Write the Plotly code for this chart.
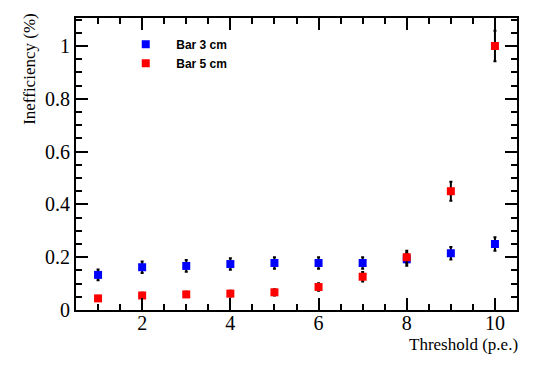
import plotly.graph_objects as go

# Umbral (p.e.)
threshold = [1, 2, 3, 4, 5, 6, 7, 8, 9, 10]

# Bar 3 cm
ineff_3cm = [0.133, 0.162, 0.167, 0.174, 0.178, 0.178, 0.178, 0.192, 0.215, 0.250]
err_3cm = [0.020, 0.022, 0.022, 0.022, 0.022, 0.022, 0.022, 0.024, 0.024, 0.026]

# Bar 5 cm
ineff_5cm = [0.044, 0.055, 0.059, 0.062, 0.067, 0.087, 0.126, 0.200, 0.450, 1.000]
err_5cm = [0.006, 0.010, 0.010, 0.011, 0.012, 0.014, 0.018, 0.024, 0.036, 0.058]

serif = 'Liberation Serif, Times New Roman, serif'

fig = go.Figure()

fig.add_scatter(x=threshold, y=ineff_3cm, mode='markers', name='Bar 3 cm',
                marker=dict(symbol='square', size=8, color='#0000ff'),
                error_y=dict(type='data', array=err_3cm, color='black', thickness=2, width=1.5))

fig.add_scatter(x=threshold, y=ineff_5cm, mode='markers', name='Bar 5 cm',
                marker=dict(symbol='square', size=8, color='#ff0000'),
                error_y=dict(type='data', array=err_5cm, color='black', thickness=2, width=1.5))

axis_common = dict(
    showline=True, linecolor='black', linewidth=2, mirror='ticks',
    ticks='inside', ticklen=12, tickwidth=2, tickcolor='black',
    showgrid=False, zeroline=False, automargin=False,
    tickfont=dict(family=serif, size=20, color='black'),
)

# la pagina tiene 8 px de margen en el body
fig.update_layout(
    width=545, height=369,
    margin=dict(l=68, r=36, t=10, b=67),
    paper_bgcolor='white', plot_bgcolor='white',
    showlegend=True,
    legend=dict(x=0.089, y=0.96, xanchor='left', yanchor='top',
                bgcolor='rgba(0,0,0,0)',
                font=dict(family='Liberation Sans', size=12, color='black', weight='bold'),
                itemwidth=51, tracegroupgap=0),
    xaxis=dict(axis_common, range=[0.5, 10.5], dtick=2, tick0=0, ticklabelstandoff=-6,
               minor=dict(dtick=0.5, tick0=0, ticks='inside', ticklen=6, tickwidth=2, tickcolor='black')),
    yaxis=dict(axis_common, range=[0, 1.106], dtick=0.2, tick0=0,
               minor=dict(dtick=0.05, tick0=0, ticks='inside', ticklen=6, tickwidth=2, tickcolor='black')),
)

# Titulos de ejes al estilo ROOT
fig.add_annotation(text='Threshold (p.e.)', xref='paper', yref='paper', x=1.005, y=-0.082,
                   xanchor='right', yanchor='top', showarrow=False, borderpad=0,
                   font=dict(family=serif, size=17, color='black'))
fig.add_annotation(text='Inefficiency (%)', xref='paper', yref='paper', x=-0.104, y=1.025,
                   xanchor='center', yanchor='top', textangle=-90, showarrow=False,
                   font=dict(family=serif, size=17, color='black'))

fig.write_html("out.html")
